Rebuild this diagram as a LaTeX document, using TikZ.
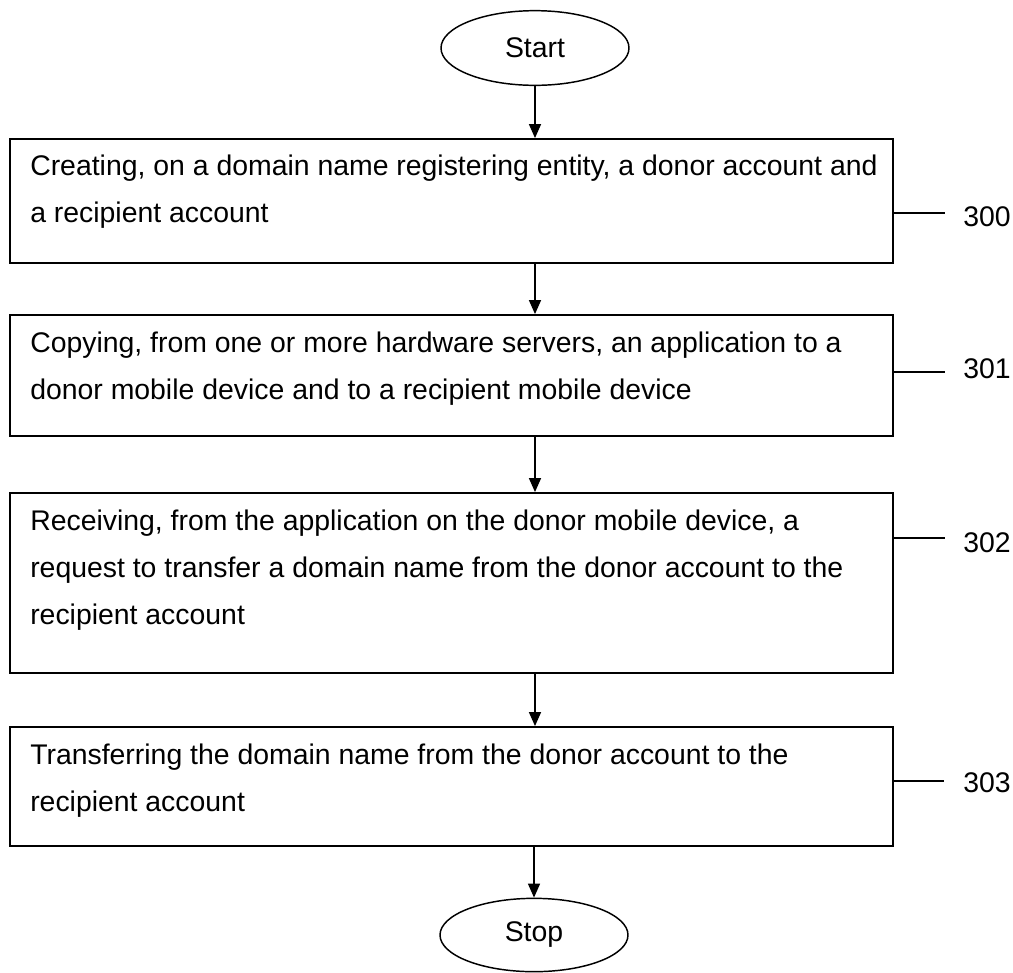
\documentclass[tikz,border=0pt]{standalone}
\usepackage{fontspec}
\setmainfont{Liberation Sans}
\usetikzlibrary{shapes.geometric,arrows.meta}
\begin{document}
\begin{tikzpicture}[x=0.75pt,y=-0.75pt,
  every node/.style={font=\fontsize{21.3}{25}\selectfont},
  stepbox/.style={draw,line width=1.4pt,rectangle,minimum width=662.25pt,inner sep=0pt},
  term/.style={draw,line width=1.1pt,ellipse,minimum width=141pt,minimum height=56pt,inner sep=0pt},
  txt/.style={anchor=base west,inner sep=0pt},
  lab/.style={anchor=west,inner sep=0pt},
  arr/.style={line width=1.1pt,-{Triangle[length=10.5pt,width=9pt]}},
  lead/.style={line width=1.1pt}]
\useasboundingbox (0,0) rectangle (1013,972);
\node[term] (start) at (535,48) {Start};
\node[stepbox,minimum height=93pt] (b1) at (451.5,201) {};
\node[stepbox,minimum height=90.75pt] (b2) at (451.5,375.5) {};
\node[stepbox,minimum height=135pt] (b3) at (451.5,583) {};
\node[stepbox,minimum height=89.25pt] (b4) at (451.5,786.5) {};
\node[term,minimum height=55pt] (stop) at (534,935) {Stop};

\node[txt] (t1a) at (30,175) {Creating, on a domain name registering entity, a donor account and};
\node[txt] (t1b) at (30,222) {a recipient account};
\node[txt] (t2a) at (30,352) {Copying, from one or more hardware servers, an application to a};
\node[txt] (t2b) at (30,399) {donor mobile device and to a recipient mobile device};
\node[txt] (t3a) at (30,530) {Receiving, from the application on the donor mobile device, a};
\node[txt] (t3b) at (30,577) {request to transfer a domain name from the donor account to the};
\node[txt] (t3c) at (30,624) {recipient account};
\node[txt] (t4a) at (30,764) {Transferring the domain name from the donor account to the};
\node[txt] (t4b) at (30,811) {recipient account};

\draw[arr] (start.south) -- (start.south |- b1.north);
\draw[arr] (b1.south -| start) -- (b2.north -| start);
\draw[arr] (b2.south -| start) -- (b3.north -| start);
\draw[arr] (b3.south -| start) -- (b4.north -| start);
\draw[arr] (b4.south -| stop) -- (stop.north);

\coordinate (e300) at (945,213);
\coordinate (e301) at (945,372);
\coordinate (e302) at (945,538);
\coordinate (e303) at (944,781);
\node[lab] (l300) at (963,217) {300};
\node[lab] (l301) at (963,369) {301};
\node[lab] (l302) at (963,543) {302};
\node[lab] (l303) at (963,783) {303};
\draw[lead] (e300 -| b1.east) -- (e300);
\draw[lead] (e301 -| b2.east) -- (e301);
\draw[lead] (e302 -| b3.east) -- (e302);
\draw[lead] (e303 -| b4.east) -- (e303);
\end{tikzpicture}
\end{document}
